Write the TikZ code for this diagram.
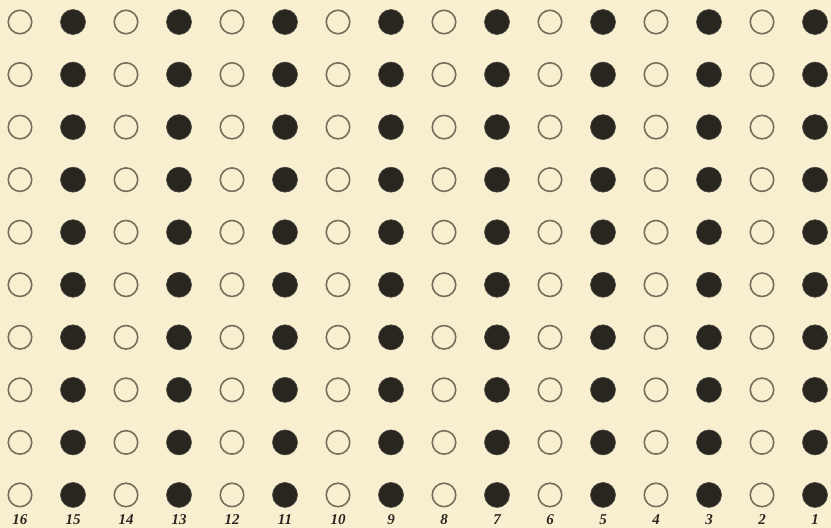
\documentclass[tikz,border=0pt]{standalone}
\usepackage{fontspec}
\setmainfont{Liberation Serif}
\definecolor{paper}{RGB}{248,239,208}
\definecolor{ink}{RGB}{40,38,30}
\definecolor{ring}{RGB}{120,110,92}
\begin{document}
\begin{tikzpicture}[x=1pt,y=-1pt,
  openhole/.style={circle,draw=ring,line width=1.6pt,minimum size=23.5pt,inner sep=0pt},
  fullhole/.style={circle,fill=ink,draw=ink!85,line width=0.6pt,minimum size=25pt,inner sep=0pt},
  numlabel/.style={font=\fontsize{15}{15}\selectfont\bfseries\itshape,text=ink,inner sep=0pt}]
\fill[paper] (0,0) rectangle (831,528);
\useasboundingbox (0,0) rectangle (831,528);
\foreach \c in {1,...,16}{
  \pgfmathsetmacro{\xx}{20+(16-\c)*53}
  \pgfmathtruncatemacro{\odd}{mod(\c,2)}
  \foreach \r in {1,...,10}{
    \pgfmathsetmacro{\yy}{22+(\r-1)*52.55}
    \ifnum\odd=1
      \node[fullhole] (h\c-\r) at (\xx,\yy) {};
    \else
      \node[openhole] (h\c-\r) at (\xx,\yy) {};
    \fi
  }
  \node[numlabel] (n\c) at (\xx,520) {\c};
}
\end{tikzpicture}
\end{document}
